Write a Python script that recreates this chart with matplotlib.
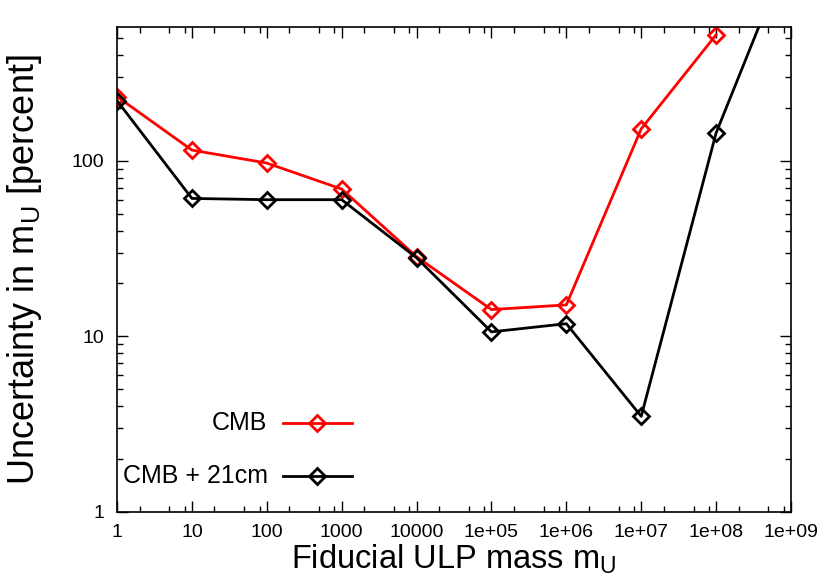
import matplotlib
matplotlib.use('Agg')
import matplotlib.pyplot as plt
from matplotlib.ticker import LogLocator, FuncFormatter, NullFormatter
import numpy as np

# fiducial ULP masses and uncertainties (percent)
mass = [1, 10, 100, 1000, 1e4, 1e5, 1e6, 1e7, 1e8, 1e9]
cmb = [232, 115, 97, 69, 28.4, 14.2, 15.1, 152, 522]
cmb_21cm = [220, 61, 60, 60, 28, 10.6, 11.8, 3.5, 144, 1650]
labels = ['CMB', 'CMB + 21cm']
colors = ['red', 'black']

plt.rcParams['font.family'] = ['Liberation Sans', 'DejaVu Sans']

fig = plt.figure(figsize=(8.3, 5.81), dpi=100)
ax = fig.add_axes([0.141, 0.119, 0.812, 0.835])

style = dict(lw=2.0, marker='D', ms=8.5, mfc='none', mew=2.0)
ax.plot(mass[:len(cmb)], cmb, color=colors[0], **style)
ax.plot(mass, cmb_21cm, color=colors[1], **style)

ax.set_xscale('log')
ax.set_yscale('log')
ax.set_xlim(1, 1e9)
ax.set_ylim(1, 580)

def gp_fmt(v, pos):
    if v < 1e5:
        return '%d' % round(v)
    return '1e+%02d' % round(np.log10(v))

ax.xaxis.set_major_locator(LogLocator(base=10, numticks=20))
ax.xaxis.set_minor_locator(LogLocator(base=10, subs=(2, 5, 8), numticks=20))
ax.xaxis.set_major_formatter(FuncFormatter(gp_fmt))
ax.xaxis.set_minor_formatter(NullFormatter())
ax.yaxis.set_major_locator(LogLocator(base=10, numticks=20))
ax.yaxis.set_minor_locator(LogLocator(base=10, subs=np.arange(2, 10), numticks=20))
ax.yaxis.set_major_formatter(FuncFormatter(gp_fmt))
ax.yaxis.set_minor_formatter(NullFormatter())

ax.tick_params(which='both', direction='in', top=True, right=True, labelsize=14, pad=9)
ax.tick_params(which='major', length=8, width=1)
ax.tick_params(which='minor', length=4, width=1)
for s in ax.spines.values():
    s.set_linewidth(1.2)

ax.set_xlabel('Fiducial ULP mass m$_\\mathregular{U}$', fontsize=23.5, labelpad=1)
ax.set_ylabel('Uncertainty in m$_\\mathregular{U}$ [percent]', fontsize=26, labelpad=20)

# gnuplot-style key: right-aligned text, then the sample line with marker
key_rows = [0.1835, 0.0742]
for lab, col, yk in zip(labels, colors, key_rows):
    ax.text(0.2234, yk, lab, transform=ax.transAxes, ha='right', va='center', fontsize=18)
    ax.plot([0.247, 0.349], [yk, yk], transform=ax.transAxes, color=col, lw=2.0)
    ax.plot([0.2973], [yk], transform=ax.transAxes, color=col, **style)

fig.savefig('out.png', dpi=100)
